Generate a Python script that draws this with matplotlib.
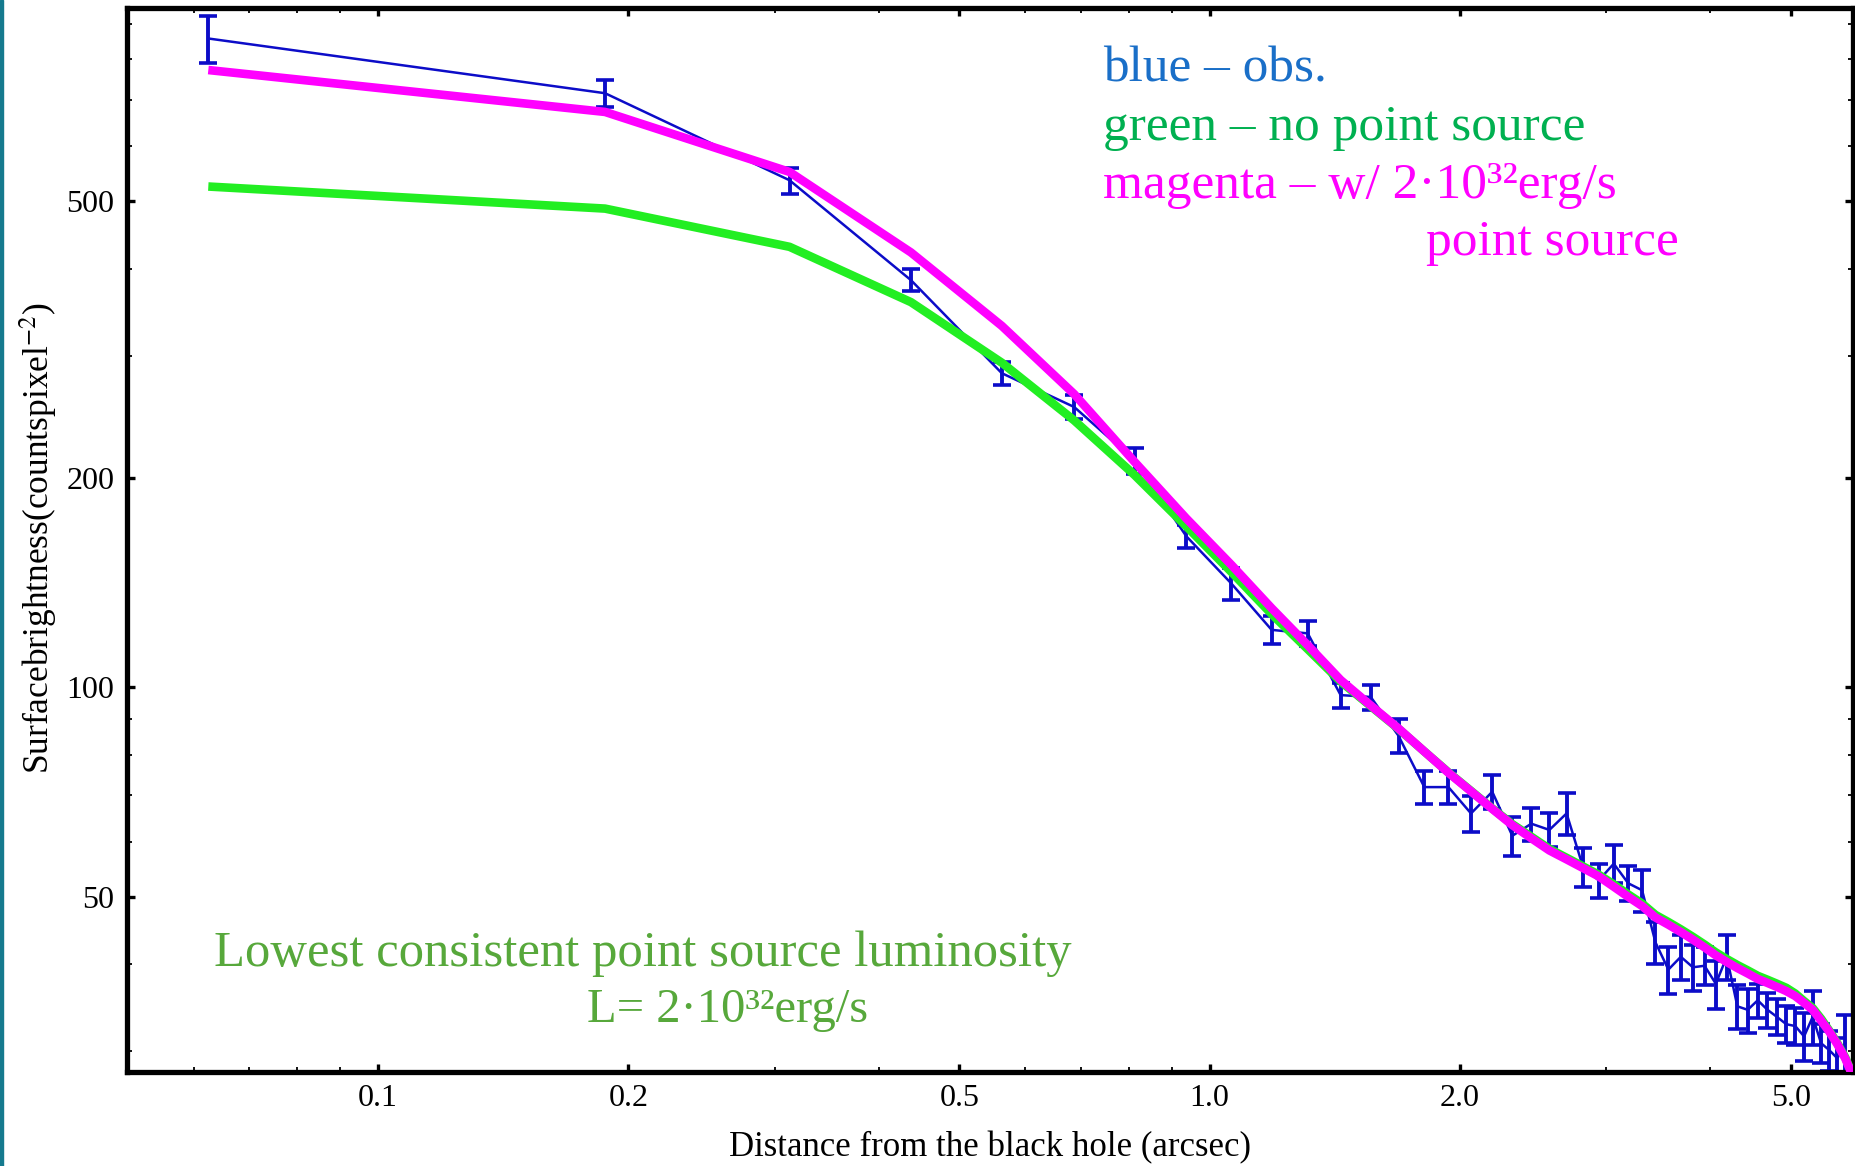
import matplotlib
matplotlib.use("Agg")
import matplotlib.pyplot as plt
from matplotlib.ticker import FixedLocator, FixedFormatter, NullFormatter
from matplotlib.patches import Rectangle

# ---------------- data ----------------
radius = [0.0625, 0.1875, 0.3125, 0.4375, 0.5625, 0.6875, 0.8125, 0.9375,
          1.0625, 1.1875, 1.3125, 1.4375, 1.5625, 1.6875, 1.8125, 1.9375,
          2.0625, 2.1875, 2.3125, 2.4375, 2.5625, 2.6875, 2.8125, 2.9375,
          3.0625, 3.1875, 3.3125, 3.4375, 3.5625, 3.6875, 3.8125, 3.9375,
          4.0625, 4.1875, 4.3125, 4.4375, 4.5625, 4.6875, 4.8125, 4.9375,
          5.0625, 5.1875, 5.3125, 5.4375, 5.5625, 5.6875, 5.8125]
obs = [857, 715, 536, 385, 283, 253, 212, 165,
       141, 121, 119.6, 97.5, 96.9, 85.2, 71.9, 71.9,
       65.9, 70.8, 61.2, 63.7, 62.4, 65.9, 55.2, 52.8,
       55.8, 52.3, 51.1, 43.0, 39.3, 41.0, 39.6, 39.8,
       37.5, 41.0, 34.8, 34.4, 35.5, 34.4, 33.6, 32.8,
       32.6, 31.5, 33.6, 30.8, 30.1, 29.3, 30.8]
obs_err = [66, 33, 23, 14, 11, 10, 9, 6.5,
           7.5, 5.5, 5, 4, 4, 4.8, 4, 4,
           4, 4, 4, 3.5, 3.5, 4.5, 3.5, 3,
           3.5, 3, 3.5, 3, 3, 3, 3, 2.5,
           3, 3, 2.5, 2.5, 2, 2, 2, 2,
           2, 2.5, 3, 2, 2, 2, 3]

model_radius = radius + [5.9375]
with_point = [772, 672, 551, 422, 331, 264, 211, 175,
              150, 130, 115, 102.5, 94.2, 87.3, 80.9, 75.4,
              70.9, 66.9, 63.4, 60.7, 58.3, 56.6, 55.0, 53.5,
              51.7, 50.0, 48.5, 46.7, 45.6, 44.5, 43.4, 42.3,
              41.2, 40.3, 39.5, 38.8, 38.1, 37.6, 37.1, 36.6,
              36.0, 35.2, 34.4, 33.2, 32.0, 30.7, 29.3, 27.6]
no_point = [525, 488, 430, 358, 293, 242, 202, 170.5,
            146.5, 127.5, 113.5, 102, 94, 87.2, 80.9, 75.5,
            71.0, 67.0, 63.6, 61.0, 58.6, 56.9, 55.3, 53.8,
            52.1, 50.4, 48.9, 47.1, 46.0, 44.9, 43.8, 42.7,
            41.6, 40.7, 39.9, 39.2, 38.5, 38.0, 37.5, 37.0,
            36.3, 35.4, 34.6, 33.4, 32.1, 30.8, 29.4, 27.7]

x_major = [0.1, 0.2, 0.5, 1.0, 2.0, 5.0]
x_major_labels = ["0.1", "0.2", "0.5", "1.0", "2.0", "5.0"]
x_minor = [0.06, 0.07, 0.08, 0.09, 0.3, 0.4, 0.6, 0.7, 0.8, 0.9, 3.0, 4.0]
y_major = [50, 100, 200, 500]
y_major_labels = ["50", "100", "200", "500"]
y_minor = [30, 40, 60, 70, 80, 90, 300, 400, 600, 700, 800, 900]

# ---------------- figure ----------------
W, H = 1855, 1166
plt.rcParams["font.family"] = ["Liberation Serif", "DejaVu Serif"]
plt.rcParams["mathtext.fontset"] = "stix"

fig = plt.figure(figsize=(W / 100, H / 100), dpi=100)
fig.patch.set_facecolor("white")


def fx(px):
    return px / W


def fy(py):
    return 1 - py / H


ax = fig.add_axes([fx(127), fy(1072), (1853 - 127) / W, (1072 - 8) / H])
ax.set_xscale("log")
ax.set_yscale("log")

BLUE = "#0c0cc8"
GREEN = "#22ee22"
MAGENTA = "#ff00ff"

ax.errorbar(radius, obs, yerr=obs_err, color=BLUE, lw=1.8,
            elinewidth=2.8, capsize=6.5, capthick=2.6, zorder=2)
ax.plot(model_radius, no_point, color=GREEN, lw=6.2, solid_capstyle="butt",
        solid_joinstyle="round", zorder=3)
ax.plot(model_radius, with_point, color=MAGENTA, lw=6.2, solid_capstyle="butt",
        solid_joinstyle="round", zorder=4)

ax.set_xlim(0.0499, 5.94)
ax.set_ylim(28, 948)

ax.xaxis.set_major_locator(FixedLocator(x_major))
ax.xaxis.set_major_formatter(FixedFormatter(x_major_labels))
ax.xaxis.set_minor_locator(FixedLocator(x_minor))
ax.xaxis.set_minor_formatter(NullFormatter())
ax.yaxis.set_major_locator(FixedLocator(y_major))
ax.yaxis.set_major_formatter(FixedFormatter(y_major_labels))
ax.yaxis.set_minor_locator(FixedLocator(y_minor))
ax.yaxis.set_minor_formatter(NullFormatter())

ax.tick_params(which="both", direction="in", top=True, right=True,
               labelsize=23, colors="black")
ax.tick_params(which="major", length=6, width=2.4, pad=9)
ax.tick_params(which="minor", length=3.5, width=1.3)
for s in ax.spines.values():
    s.set_linewidth(3.8)
    s.set_color("black")

fig.text(fx(990), fy(1148), "Distance from the black hole (arcsec)",
         ha="center", va="center", fontsize=25)
fig.text(fx(39), fy(538), r"Surfacebrightness(countspixel$^{-2}$)",
         ha="center", va="center", rotation=90, fontsize=25.5)

# annotations
fs = 37
fig.text(fx(1103), fy(82), "blue – obs.", color="#1a6fc8", fontsize=fs,
         va="baseline", ha="left")
fig.text(fx(1103), fy(140), "green – no point source", color="#00b050",
         fontsize=fs, va="baseline", ha="left")
fig.text(fx(1103), fy(198), "magenta – w/ 2·10³²erg/s", color=MAGENTA,
         fontsize=fs, va="baseline", ha="left")
fig.text(fx(1426), fy(255), "point source", color=MAGENTA,
         fontsize=fs, va="baseline", ha="left")
fig.text(fx(214), fy(966), "Lowest consistent point source luminosity",
         color="#57a83b", fontsize=36.5, va="baseline", ha="left")
fig.text(fx(587), fy(1022), "L= 2·10³²erg/s",
         color="#57a83b", fontsize=35, va="baseline", ha="left")

# teal slide edge on the left
fig.patches.append(Rectangle((0, 0), 2.5 / W, 1, transform=fig.transFigure,
                             color="#157a8e", zorder=10))

fig.savefig("out.png", dpi=100, facecolor="white")
